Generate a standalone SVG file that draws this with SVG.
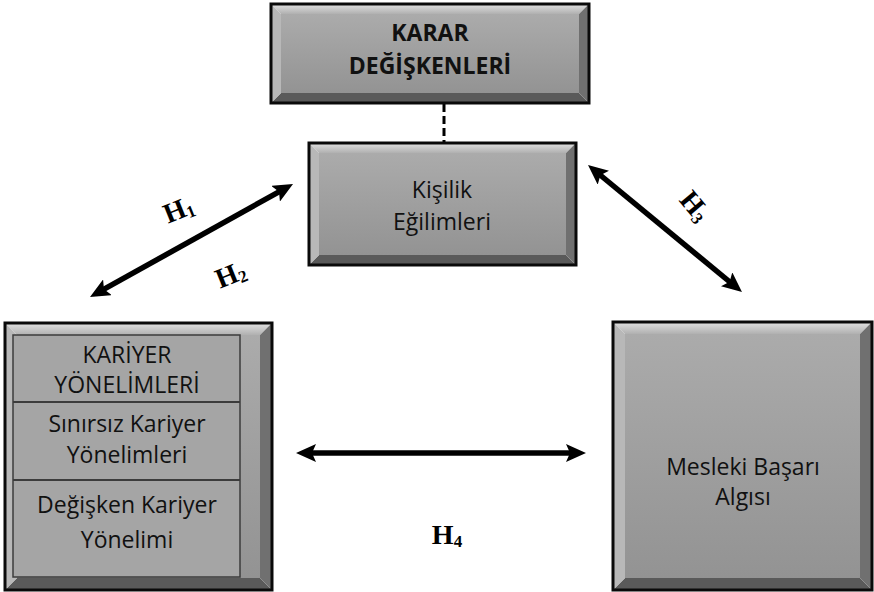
<svg xmlns="http://www.w3.org/2000/svg" width="874" height="592" viewBox="0 0 874 592">
<defs>
  <linearGradient id="face" x1="0" y1="0" x2="0" y2="1">
    <stop offset="0" stop-color="#ababab"/>
    <stop offset="1" stop-color="#939393"/>
  </linearGradient>
  <linearGradient id="topb" x1="0" y1="0" x2="0" y2="1">
    <stop offset="0" stop-color="#e2e2e2"/>
    <stop offset="1" stop-color="#b0b0b0"/>
  </linearGradient>
  <marker id="ah" viewBox="0 0 20 18" markerWidth="20" markerHeight="18" refX="9" refY="9" orient="auto-start-reverse" markerUnits="userSpaceOnUse">
    <path d="M0,0 L20,9 L0,18 L4,9 z" fill="#000"/>
  </marker>
</defs>
<style>
  .face{fill:url(#face)}
  .bt{fill:url(#topb)}
  .bl{fill:#b8b8b8}
  .br{fill:#707070}
  .bb{fill:#5a5a5a}
  .border{fill:none;stroke:#0a0a0a;stroke-width:3}
  .tbl{fill:#a5a5a5;stroke:#3c3c3c;stroke-width:1.5}
  .sep{stroke:#3c3c3c;stroke-width:2}
  .t{font-family:"Open Sans","Liberation Sans",sans-serif;font-size:23px;fill:#111;text-anchor:middle}
  .tb{font-family:"Open Sans","Liberation Sans",sans-serif;font-size:23px;font-weight:bold;fill:#111;text-anchor:middle}
  .h{font-family:"Liberation Serif","Times New Roman",serif;font-size:28px;font-weight:bold;fill:#000;text-anchor:middle}
  .sub{font-size:17px}
  .arr{stroke:#000;stroke-width:5.5;fill:none;marker-start:url(#ah);marker-end:url(#ah)}
  .dash{stroke:#000;stroke-width:3;stroke-dasharray:8,4}
</style>

<g id="connectors">
  <line class="dash" x1="444" y1="104" x2="444" y2="142"/>
  <line class="arr" x1="99.6" y1="291.7" x2="283.4" y2="189.3"/>
  <line class="arr" x1="596.5" y1="172.0" x2="733.5" y2="285.0"/>
  <line class="arr" x1="307" y1="453" x2="575" y2="453"/>
  <text class="h" transform="translate(182,218) rotate(-22)">H<tspan class="sub" dy="3">1</tspan></text>
  <text class="h" transform="translate(234,283) rotate(-22)">H<tspan class="sub" dy="3">2</tspan></text>
  <text class="h" transform="translate(688,212) rotate(50)">H<tspan class="sub" dy="3">3</tspan></text>
  <text class="h" x="447" y="544">H<tspan class="sub" dy="3">4</tspan></text>
</g>

<g id="karar">
  <rect class="face" x="281" y="14" width="298" height="79"/>
  <polygon class="bt" points="271,4 589,4 579,14 281,14"/>
  <polygon class="bb" points="271,103 589,103 579,93 281,93"/>
  <polygon class="bl" points="271,4 281,14 281,93 271,103"/>
  <polygon class="br" points="589,4 579,14 579,93 589,103"/>
  <rect class="border" x="271" y="4" width="318" height="99"/>
  <text class="tb" x="430" y="41">KARAR</text>
  <text class="tb" x="430" y="74">DEĞİŞKENLERİ</text>
</g>

<g id="kisilik">
  <rect class="face" x="319" y="153" width="247" height="102"/>
  <polygon class="bt" points="309,143 576,143 566,153 319,153"/>
  <polygon class="bb" points="309,265 576,265 566,255 319,255"/>
  <polygon class="bl" points="309,143 319,153 319,255 309,265"/>
  <polygon class="br" points="576,143 566,153 566,255 576,265"/>
  <rect class="border" x="309" y="143" width="267" height="122"/>
  <text class="t" x="442" y="198">Kişilik</text>
  <text class="t" x="442" y="230">Eğilimleri</text>
</g>

<g id="kariyer">
  <rect class="face" x="17" y="335" width="243" height="243"/>
  <polygon class="bt" points="5,323 272,323 260,335 17,335"/>
  <polygon class="bb" points="5,590 272,590 260,578 17,578"/>
  <polygon class="bl" points="5,323 17,335 17,578 5,590"/>
  <polygon class="br" points="272,323 260,335 260,578 272,590"/>
  <rect class="border" x="5" y="323" width="267" height="267"/>
  <rect class="tbl" x="13" y="335" width="227" height="242"/>
  <line class="sep" x1="13" y1="402" x2="240" y2="402"/>
  <line class="sep" x1="13" y1="480" x2="240" y2="480"/>
  <text class="t" x="127" y="363">KARİYER</text>
  <text class="t" x="127" y="393">YÖNELİMLERİ</text>
  <text class="t" x="127" y="432">Sınırsız Kariyer</text>
  <text class="t" x="127" y="463">Yönelimleri</text>
  <text class="t" x="127" y="513">Değişken Kariyer</text>
  <text class="t" x="127" y="548">Yönelimi</text>
</g>

<g id="mesleki">
  <rect class="face" x="625" y="334" width="235" height="244"/>
  <polygon class="bt" points="613,322 872,322 860,334 625,334"/>
  <polygon class="bb" points="613,590 872,590 860,578 625,578"/>
  <polygon class="bl" points="613,322 625,334 625,578 613,590"/>
  <polygon class="br" points="872,322 860,334 860,578 872,590"/>
  <rect class="border" x="613" y="322" width="259" height="268"/>
  <text class="t" x="743" y="475">Mesleki Başarı</text>
  <text class="t" x="743" y="505">Algısı</text>
</g>
</svg>
